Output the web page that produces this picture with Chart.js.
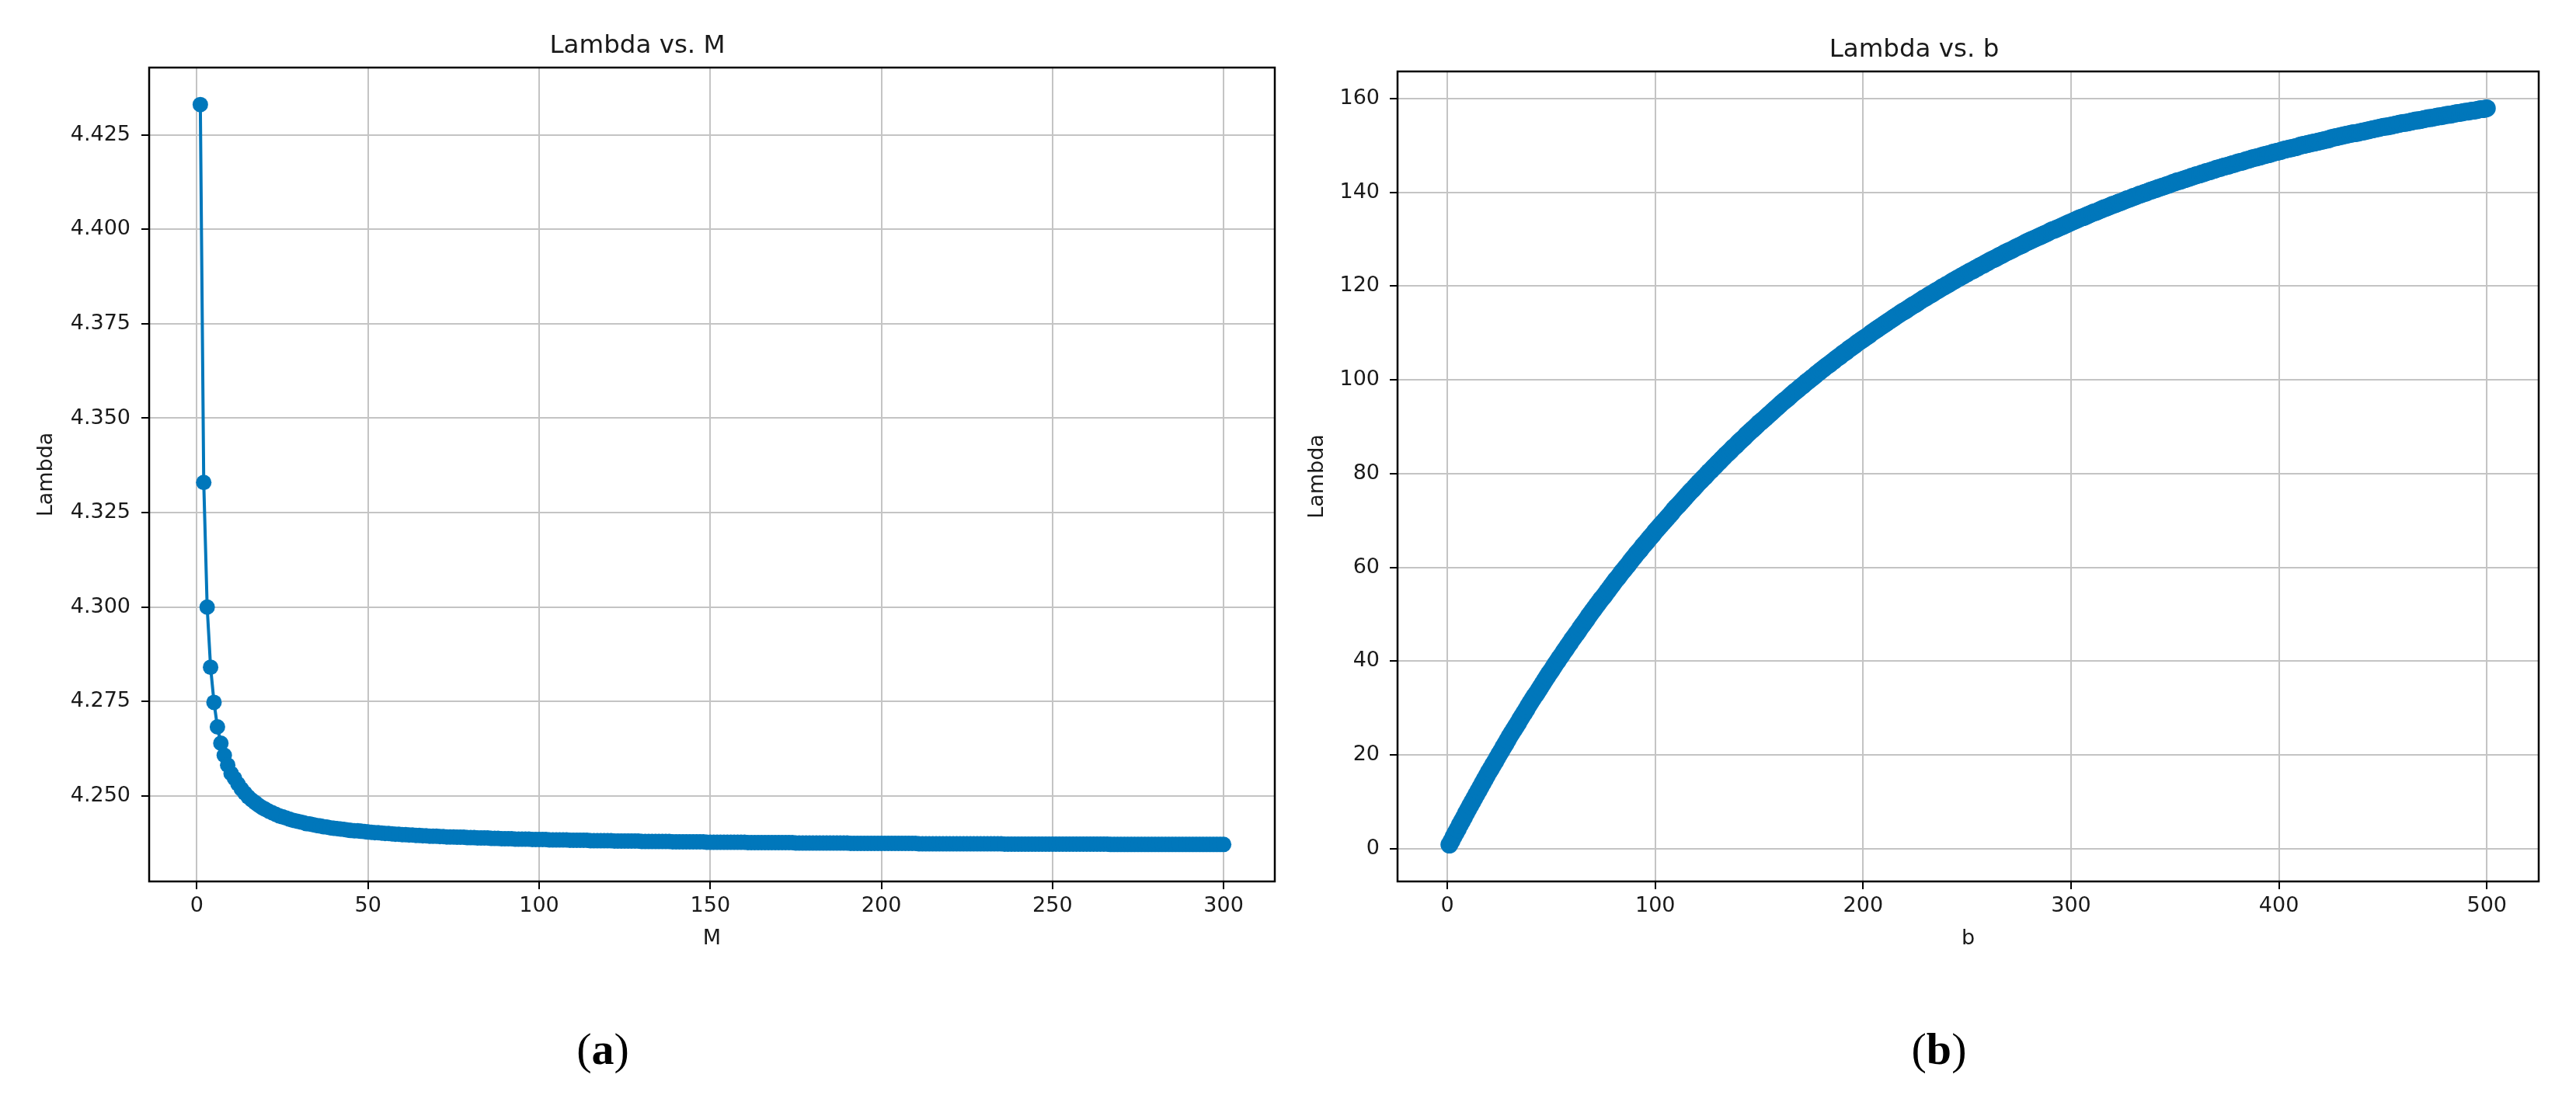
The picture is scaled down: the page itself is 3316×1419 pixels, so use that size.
<!DOCTYPE html>
<html>
<head>
<meta charset="utf-8">
<script src="https://cdn.jsdelivr.net/npm/chart.js@4.4.1/dist/chart.umd.min.js"></script>
<style>
  html, body { margin: 0; padding: 0; background: #fff; }
  body { width: 3316px; height: 1419px; position: relative; overflow: hidden; }
  canvas { position: absolute; top: 0; }
  #chart-m { left: 0; }
  #chart-b { left: 1660px; }
  .panel-label {
    position: absolute;
    font-family: 'Liberation Serif', 'DejaVu Serif', serif;
    font-size: 58px;
    color: #000;
    transform: translate(-50%, -50%);
  }
</style>
</head>
<body>
<canvas id="chart-m" width="1660" height="1250"></canvas>
<canvas id="chart-b" width="1656" height="1250"></canvas>
<div class="panel-label" style="left:776px; top:1350px">(<b>a</b>)</div>
<div class="panel-label" style="left:2496px; top:1350px">(<b>b</b>)</div>
<script>
// (a) Lambda for M = 1..300
const lambdaM = [
  4.433, 4.333, 4.300, 4.2841, 4.2748, 4.2683, 4.2640, 4.2608, 4.2582, 4.2560,
  4.2547, 4.2532, 4.2519, 4.2508, 4.2498, 4.2490, 4.2483, 4.2476, 4.2470, 4.2465,
  4.2460, 4.2456, 4.2452, 4.2448, 4.2445, 4.2442, 4.2439, 4.2436, 4.2434, 4.2432,
  4.2430, 4.2427, 4.2426, 4.2424, 4.2422, 4.2421, 4.2419, 4.2418, 4.2416, 4.2415,
  4.2414, 4.2413, 4.2412, 4.2410, 4.2409, 4.2408, 4.2408, 4.2407, 4.2406, 4.2405,
  4.2404, 4.2403, 4.2403, 4.2402, 4.2401, 4.2401, 4.2400, 4.2399, 4.2399, 4.2398,
  4.2398, 4.2397, 4.2397, 4.2396, 4.2396, 4.2395, 4.2395, 4.2394, 4.2394, 4.2394,
  4.2393, 4.2393, 4.2392, 4.2392, 4.2392, 4.2391, 4.2391, 4.2391, 4.2390, 4.2390,
  4.2390, 4.2389, 4.2389, 4.2389, 4.2389, 4.2388, 4.2388, 4.2388, 4.2387, 4.2387,
  4.2387, 4.2387, 4.2386, 4.2386, 4.2386, 4.2386, 4.2386, 4.2385, 4.2385, 4.2385,
  4.2385, 4.2385, 4.2384, 4.2384, 4.2384, 4.2384, 4.2384, 4.2384, 4.2383, 4.2383,
  4.2383, 4.2383, 4.2383, 4.2383, 4.2382, 4.2382, 4.2382, 4.2382, 4.2382, 4.2382,
  4.2382, 4.2381, 4.2381, 4.2381, 4.2381, 4.2381, 4.2381, 4.2381, 4.2381, 4.2380,
  4.2380, 4.2380, 4.2380, 4.2380, 4.2380, 4.2380, 4.2380, 4.2380, 4.2379, 4.2379,
  4.2379, 4.2379, 4.2379, 4.2379, 4.2379, 4.2379, 4.2379, 4.2379, 4.2378, 4.2378,
  4.2378, 4.2378, 4.2378, 4.2378, 4.2378, 4.2378, 4.2378, 4.2378, 4.2378, 4.2378,
  4.2377, 4.2377, 4.2377, 4.2377, 4.2377, 4.2377, 4.2377, 4.2377, 4.2377, 4.2377,
  4.2377, 4.2377, 4.2377, 4.2377, 4.2376, 4.2376, 4.2376, 4.2376, 4.2376, 4.2376,
  4.2376, 4.2376, 4.2376, 4.2376, 4.2376, 4.2376, 4.2376, 4.2376, 4.2376, 4.2376,
  4.2375, 4.2375, 4.2375, 4.2375, 4.2375, 4.2375, 4.2375, 4.2375, 4.2375, 4.2375,
  4.2375, 4.2375, 4.2375, 4.2375, 4.2375, 4.2375, 4.2375, 4.2375, 4.2375, 4.2375,
  4.2374, 4.2374, 4.2374, 4.2374, 4.2374, 4.2374, 4.2374, 4.2374, 4.2374, 4.2374,
  4.2374, 4.2374, 4.2374, 4.2374, 4.2374, 4.2374, 4.2374, 4.2374, 4.2374, 4.2374,
  4.2374, 4.2374, 4.2374, 4.2374, 4.2374, 4.2373, 4.2373, 4.2373, 4.2373, 4.2373,
  4.2373, 4.2373, 4.2373, 4.2373, 4.2373, 4.2373, 4.2373, 4.2373, 4.2373, 4.2373,
  4.2373, 4.2373, 4.2373, 4.2373, 4.2373, 4.2373, 4.2373, 4.2373, 4.2373, 4.2373,
  4.2373, 4.2373, 4.2373, 4.2373, 4.2373, 4.2373, 4.2372, 4.2372, 4.2372, 4.2372,
  4.2372, 4.2372, 4.2372, 4.2372, 4.2372, 4.2372, 4.2372, 4.2372, 4.2372, 4.2372,
  4.2372, 4.2372, 4.2372, 4.2372, 4.2372, 4.2372, 4.2372, 4.2372, 4.2372, 4.2372,
  4.2372, 4.2372, 4.2372, 4.2372, 4.2372, 4.2372, 4.2372, 4.2372, 4.2372, 4.2372
];

// (b) Lambda for b = 1..500
const lambdaB = [
  0.9, 1.7, 2.6, 3.4, 4.2, 5.1, 5.9, 6.7, 7.6, 8.4,
  9.2, 10.0, 10.8, 11.6, 12.4, 13.2, 14.0, 14.8, 15.6, 16.4,
  17.1, 17.9, 18.6, 19.4, 20.2, 20.9, 21.7, 22.4, 23.2, 24.0,
  24.7, 25.4, 26.1, 26.8, 27.6, 28.3, 29.0, 29.7, 30.5, 31.2,
  31.9, 32.6, 33.2, 33.9, 34.6, 35.3, 36.0, 36.7, 37.4, 38.0,
  38.7, 39.4, 40.0, 40.7, 41.3, 42.0, 42.6, 43.3, 43.9, 44.6,
  45.2, 45.8, 46.4, 47.1, 47.7, 48.3, 48.9, 49.6, 50.2, 50.8,
  51.4, 52.0, 52.6, 53.2, 53.7, 54.3, 54.9, 55.5, 56.1, 56.7,
  57.3, 57.8, 58.4, 59.0, 59.5, 60.1, 60.6, 61.2, 61.8, 62.3,
  62.9, 63.4, 63.9, 64.5, 65.0, 65.5, 66.1, 66.6, 67.1, 67.7,
  68.2, 68.7, 69.2, 69.7, 70.2, 70.7, 71.2, 71.7, 72.3, 72.8,
  73.2, 73.7, 74.2, 74.7, 75.2, 75.7, 76.2, 76.6, 77.1, 77.6,
  78.1, 78.5, 79.0, 79.4, 79.9, 80.4, 80.8, 81.3, 81.7, 82.2,
  82.6, 83.1, 83.5, 84.0, 84.4, 84.8, 85.3, 85.7, 86.1, 86.6,
  87.0, 87.4, 87.8, 88.3, 88.7, 89.1, 89.5, 89.9, 90.3, 90.8,
  91.1, 91.5, 91.9, 92.3, 92.7, 93.1, 93.5, 93.9, 94.3, 94.7,
  95.1, 95.5, 95.8, 96.2, 96.6, 97.0, 97.4, 97.7, 98.1, 98.5,
  98.8, 99.2, 99.6, 99.9, 100.3, 100.6, 101.0, 101.4, 101.7, 102.1,
  102.4, 102.8, 103.1, 103.4, 103.8, 104.1, 104.5, 104.8, 105.1, 105.5,
  105.8, 106.1, 106.5, 106.8, 107.1, 107.4, 107.8, 108.1, 108.4, 108.7,
  109.0, 109.3, 109.6, 110.0, 110.3, 110.6, 110.9, 111.2, 111.5, 111.8,
  112.1, 112.4, 112.7, 113.0, 113.3, 113.6, 113.9, 114.2, 114.5, 114.7,
  115.0, 115.3, 115.6, 115.9, 116.1, 116.4, 116.7, 117.0, 117.3, 117.5,
  117.8, 118.1, 118.3, 118.6, 118.9, 119.1, 119.4, 119.7, 119.9, 120.2,
  120.4, 120.7, 121.0, 121.2, 121.5, 121.7, 122.0, 122.2, 122.5, 122.7,
  123.0, 123.2, 123.4, 123.7, 123.9, 124.2, 124.4, 124.6, 124.9, 125.1,
  125.4, 125.6, 125.8, 126.0, 126.3, 126.5, 126.7, 127.0, 127.2, 127.4,
  127.6, 127.8, 128.1, 128.3, 128.5, 128.7, 128.9, 129.2, 129.4, 129.6,
  129.8, 130.0, 130.2, 130.4, 130.6, 130.8, 131.0, 131.2, 131.4, 131.7,
  131.9, 132.0, 132.2, 132.4, 132.6, 132.8, 133.0, 133.2, 133.4, 133.6,
  133.8, 134.0, 134.2, 134.4, 134.6, 134.7, 134.9, 135.1, 135.3, 135.5,
  135.7, 135.8, 136.0, 136.2, 136.4, 136.6, 136.7, 136.9, 137.1, 137.3,
  137.4, 137.6, 137.8, 137.9, 138.1, 138.3, 138.5, 138.6, 138.8, 139.0,
  139.1, 139.3, 139.5, 139.6, 139.8, 139.9, 140.1, 140.3, 140.4, 140.6,
  140.7, 140.9, 141.0, 141.2, 141.3, 141.5, 141.6, 141.8, 142.0, 142.1,
  142.3, 142.4, 142.5, 142.7, 142.8, 143.0, 143.1, 143.3, 143.4, 143.6,
  143.7, 143.8, 144.0, 144.1, 144.3, 144.4, 144.5, 144.7, 144.8, 145.0,
  145.1, 145.2, 145.4, 145.5, 145.6, 145.7, 145.9, 146.0, 146.1, 146.3,
  146.4, 146.5, 146.6, 146.8, 146.9, 147.0, 147.2, 147.3, 147.4, 147.5,
  147.6, 147.8, 147.9, 148.0, 148.1, 148.2, 148.4, 148.5, 148.6, 148.7,
  148.8, 149.0, 149.1, 149.2, 149.3, 149.4, 149.5, 149.6, 149.7, 149.9,
  150.0, 150.1, 150.2, 150.3, 150.4, 150.5, 150.6, 150.7, 150.8, 150.9,
  151.0, 151.1, 151.2, 151.3, 151.5, 151.6, 151.7, 151.8, 151.9, 152.0,
  152.1, 152.2, 152.3, 152.4, 152.5, 152.6, 152.6, 152.7, 152.8, 152.9,
  153.0, 153.1, 153.2, 153.3, 153.4, 153.5, 153.6, 153.7, 153.8, 153.9,
  154.0, 154.0, 154.1, 154.2, 154.3, 154.4, 154.5, 154.6, 154.7, 154.8,
  154.8, 154.9, 155.0, 155.1, 155.2, 155.3, 155.3, 155.4, 155.5, 155.6,
  155.7, 155.8, 155.8, 155.9, 156.0, 156.1, 156.2, 156.2, 156.3, 156.4,
  156.5, 156.5, 156.6, 156.7, 156.8, 156.9, 156.9, 157.0, 157.1, 157.2,
  157.2, 157.3, 157.4, 157.4, 157.5, 157.6, 157.7, 157.7, 157.8, 157.9
];

// x values start at 1 and step by 1
const firstM = 1;
const firstB = 1;

const mTicks = [0, 50, 100, 150, 200, 250, 300];
const lambdaMTicks = [4.250, 4.275, 4.300, 4.325, 4.350, 4.375, 4.400, 4.425];
const bTicks = [0, 100, 200, 300, 400, 500];
const lambdaBTicks = [0, 20, 40, 60, 80, 100, 120, 140, 160];

const BLUE = '#0077bb';
const GRID = '#c4c4c4';
const TEXT = '#1a1a1a';
const FONT = 'DejaVu Sans';

// matplotlib draws a full black box around the axes
const framePlugin = {
    id: 'frame',
    afterDraw(chart) {
        const {ctx, chartArea: a} = chart;
        ctx.save();
        ctx.strokeStyle = '#000';
        ctx.lineWidth = 2.5;
        ctx.strokeRect(a.left, a.top, a.right - a.left, a.bottom - a.top);
        ctx.restore();
    }
};

// 5% margin on each side, like matplotlib's autoscale
function paddedRange(values) {
    const lo = Math.min(...values);
    const hi = Math.max(...values);
    const pad = (hi - lo) * 0.05;
    return {min: lo - pad, max: hi + pad};
}

function makeChart(cfg) {
    const xs = cfg.ys.map((_, i) => cfg.firstX + i);
    const xr = paddedRange(xs);
    const yr = paddedRange(cfg.ys);
    const tickFont = {family: FONT, size: 27};

    return new Chart(document.getElementById(cfg.canvas), {
        type: 'scatter',
        data: {
            datasets: [{
                data: xs.map((x, i) => ({x, y: cfg.ys[i]})),
                showLine: true,
                borderColor: BLUE,
                backgroundColor: BLUE,
                borderWidth: 4,
                pointRadius: cfg.pointRadius,
                pointHoverRadius: cfg.pointRadius,
                pointBorderWidth: 0,
                tension: 0
            }]
        },
        options: {
            responsive: false,
            animation: false,
            devicePixelRatio: 1,
            layout: {
                padding: {top: cfg.padTop, right: cfg.padRight, bottom: 0, left: 0}
            },
            plugins: {
                legend: {display: false},
                tooltip: {enabled: false},
                title: {
                    display: true,
                    text: cfg.title,
                    color: TEXT,
                    font: {family: FONT, size: 32.5, weight: 'normal'},
                    padding: {top: 0, bottom: 8}
                }
            },
            scales: {
                x: {
                    type: 'linear',
                    min: xr.min,
                    max: xr.max,
                    afterBuildTicks: s => { s.ticks = cfg.xTicks.map(v => ({value: v})); },
                    afterFit: s => { s.height = 115; },
                    ticks: {
                        font: tickFont,
                        color: TEXT,
                        padding: 6,
                        maxRotation: 0,
                        autoSkip: false,
                        callback: v => String(v)
                    },
                    grid: {color: GRID, lineWidth: 2, tickLength: 10, tickColor: '#000', tickWidth: 2},
                    border: {display: false},
                    title: {
                        display: true,
                        text: cfg.xLabel,
                        color: TEXT,
                        font: {family: FONT, size: 27},
                        padding: {top: 0, bottom: 25}
                    }
                },
                y: {
                    type: 'linear',
                    min: yr.min,
                    max: yr.max,
                    afterBuildTicks: s => { s.ticks = cfg.yTicks.map(v => ({value: v})); },
                    afterFit: s => { s.width = cfg.yWidth; },
                    ticks: {
                        font: tickFont,
                        color: TEXT,
                        padding: cfg.yTickPad,
                        autoSkip: false,
                        callback: v => v.toFixed(cfg.yDecimals)
                    },
                    grid: {color: GRID, lineWidth: 2, tickLength: 10, tickColor: '#000', tickWidth: 2},
                    border: {display: false},
                    title: {
                        display: true,
                        text: 'Lambda',
                        color: TEXT,
                        font: {family: FONT, size: 27},
                        padding: {top: cfg.yTitlePad, bottom: 0}
                    }
                }
            }
        },
        plugins: [framePlugin]
    });
}

makeChart({
    canvas: 'chart-m',
    title: 'Lambda vs. M',
    xLabel: 'M',
    ys: lambdaM,
    firstX: firstM,
    xTicks: mTicks,
    yTicks: lambdaMTicks,
    yDecimals: 3,
    pointRadius: 10,
    padTop: 40,
    padRight: 19,
    yWidth: 192,
    yTickPad: 14,
    yTitlePad: 44
});

makeChart({
    canvas: 'chart-b',
    title: 'Lambda vs. b',
    xLabel: 'b',
    ys: lambdaB,
    firstX: firstB,
    xTicks: bTicks,
    yTicks: lambdaBTicks,
    yDecimals: 0,
    pointRadius: 11.5,
    padTop: 45,
    padRight: 48,
    yWidth: 139,
    yTickPad: 13,
    yTitlePad: 20
});
</script>
</body>
</html>
